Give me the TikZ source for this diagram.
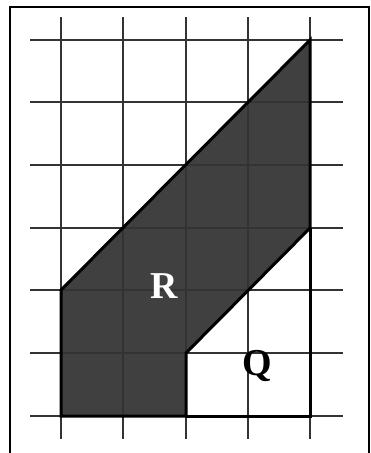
\documentclass[tikz,border=0pt]{standalone}
\usepackage{fontspec}
\setmainfont{Liberation Serif}
\begin{document}
\begin{tikzpicture}[x=1pt,y=-1pt,
  gridline/.style={draw=black!80,line width=1.7pt},
  outline/.style={draw=black,line width=3pt,line join=miter},
  lbl/.style={font=\fontsize{38}{38}\selectfont\bfseries,inner sep=0pt}]
\useasboundingbox (0,0) rectangle (371,453);
\fill[white] (0,0) rectangle (371,453);
% frame
\draw[black,line width=1.2pt] (10,453) -- (10,7) -- (369,7) -- (369,453);
% shaded region R
\fill[black!75] (61,290) -- (310,40) -- (310,228) -- (186,353) -- (186,416) -- (61,416) -- cycle;
% grid
\foreach \x in {61,123,186,248,310} \draw[gridline] (\x,17) -- (\x,439);
\foreach \y in {40,102,165,228,290,353,416} \draw[gridline] (30,\y) -- (343,\y);
% outlines
\draw[outline] (61,290) -- (310,40) -- (310,228) -- (186,353) -- (186,416) -- (61,416) -- cycle;
\draw[outline] (186,416) -- (310,416) -- (310,228);
% labels
\node[lbl,text=white] (R) at (164,286) {R};
\node[lbl,text=black] (Q) at (257,366) {Q};
\end{tikzpicture}
\end{document}
